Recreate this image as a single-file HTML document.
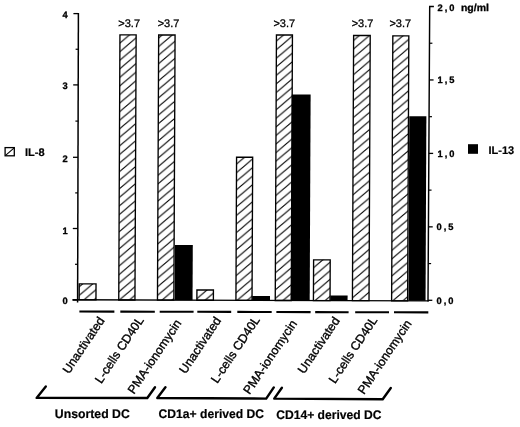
<!DOCTYPE html>
<html><head><meta charset="utf-8"><style>
html,body{margin:0;padding:0;background:#fff;}
svg{display:block;will-change:transform;}
text{font-family:"Liberation Sans",sans-serif;fill:#000;text-rendering:geometricPrecision;}
.t11{font-size:11px;stroke:#000;stroke-width:0.3px;}
.b10{font-size:10px;font-weight:bold;}
.b9{font-size:9.3px;font-weight:bold;stroke:#000;stroke-width:0.3px;}
.b11{font-size:11px;font-weight:bold;stroke:#000;stroke-width:0.2px;}
.b12{font-size:12.4px;font-weight:bold;stroke:#000;stroke-width:0.2px;}
.r12{font-size:12.3px;stroke:#000;stroke-width:0.35px;}
</style></head><body>
<svg width="520" height="427" viewBox="0 0 520 427">
<rect width="520" height="427" fill="#fff"/>
<defs>
<pattern id="h0" patternUnits="userSpaceOnUse" x="79.2" y="286.8" width="10.094" height="8.58"><path d="M-11.09,9.43 L1.00,-0.85 M-1.00,9.43 L11.09,-0.85 M9.09,9.43 L21.19,-0.85" stroke="#000" stroke-width="1.05" fill="none"/></pattern>
<pattern id="h1" patternUnits="userSpaceOnUse" x="119.9" y="34.5" width="10.094" height="8.58"><path d="M-11.09,9.43 L1.00,-0.85 M-1.00,9.43 L11.09,-0.85 M9.09,9.43 L21.19,-0.85" stroke="#000" stroke-width="1.05" fill="none"/></pattern>
<pattern id="h2" patternUnits="userSpaceOnUse" x="158.6" y="38" width="10.094" height="8.58"><path d="M-11.09,9.43 L1.00,-0.85 M-1.00,9.43 L11.09,-0.85 M9.09,9.43 L21.19,-0.85" stroke="#000" stroke-width="1.05" fill="none"/></pattern>
<pattern id="h3" patternUnits="userSpaceOnUse" x="196.9" y="290" width="10.094" height="8.58"><path d="M-11.09,9.43 L1.00,-0.85 M-1.00,9.43 L11.09,-0.85 M9.09,9.43 L21.19,-0.85" stroke="#000" stroke-width="1.05" fill="none"/></pattern>
<pattern id="h4" patternUnits="userSpaceOnUse" x="236" y="155.5" width="10.094" height="8.58"><path d="M-11.09,9.43 L1.00,-0.85 M-1.00,9.43 L11.09,-0.85 M9.09,9.43 L21.19,-0.85" stroke="#000" stroke-width="1.05" fill="none"/></pattern>
<pattern id="h5" patternUnits="userSpaceOnUse" x="275.3" y="32.5" width="10.094" height="8.58"><path d="M-11.09,9.43 L1.00,-0.85 M-1.00,9.43 L11.09,-0.85 M9.09,9.43 L21.19,-0.85" stroke="#000" stroke-width="1.05" fill="none"/></pattern>
<pattern id="h6" patternUnits="userSpaceOnUse" x="313.6" y="259.1" width="10.094" height="8.58"><path d="M-11.09,9.43 L1.00,-0.85 M-1.00,9.43 L11.09,-0.85 M9.09,9.43 L21.19,-0.85" stroke="#000" stroke-width="1.05" fill="none"/></pattern>
<pattern id="h7" patternUnits="userSpaceOnUse" x="353.6" y="40.4" width="10.094" height="8.58"><path d="M-11.09,9.43 L1.00,-0.85 M-1.00,9.43 L11.09,-0.85 M9.09,9.43 L21.19,-0.85" stroke="#000" stroke-width="1.05" fill="none"/></pattern>
<pattern id="h8" patternUnits="userSpaceOnUse" x="392.8" y="35.8" width="10.094" height="8.58"><path d="M-11.09,9.43 L1.00,-0.85 M-1.00,9.43 L11.09,-0.85 M9.09,9.43 L21.19,-0.85" stroke="#000" stroke-width="1.05" fill="none"/></pattern>
</defs>
<rect x="79.2" y="283.9" width="16.8" height="15.95" fill="url(#h0)" stroke="#000" stroke-width="1.35" transform="matrix(1,0,-0.0045,1,1.31,0)"/>
<rect x="119.9" y="34.9" width="16.2" height="265.07" fill="url(#h1)" stroke="#000" stroke-width="1.35" transform="matrix(1,0,-0.0045,1,0.2,0)"/>
<rect x="158.6" y="35" width="16.4" height="265.09" fill="url(#h2)" stroke="#000" stroke-width="1.35" transform="matrix(1,0,-0.0045,1,0.22,0)"/>
<rect x="175" y="244.9" width="17.8" height="55.24" fill="#000" transform="matrix(1,0,-0.0045,1,1.1,0)"/>
<rect x="196.9" y="290" width="16.5" height="10.21" fill="url(#h3)" stroke="#000" stroke-width="1.35" transform="matrix(1,0,-0.0045,1,1.33,0)"/>
<rect x="236" y="157.2" width="16.1" height="143.13" fill="url(#h4)" stroke="#000" stroke-width="1.35" transform="matrix(1,0,-0.0045,1,1.28,0)"/>
<rect x="252.2" y="296" width="17.8" height="4.38" fill="#000" transform="matrix(1,0,-0.0045,1,1.34,0)"/>
<rect x="275.3" y="35" width="16" height="265.45" fill="url(#h5)" stroke="#000" stroke-width="1.35" transform="matrix(1,0,-0.0045,1,1.3,0)"/>
<rect x="291.8" y="94.4" width="18.8" height="206.11" fill="#000" transform="matrix(1,0,-0.0045,1,0.45,0)"/>
<rect x="313.6" y="259.8" width="16.6" height="40.77" fill="url(#h6)" stroke="#000" stroke-width="1.35" transform="matrix(1,0,-0.0045,1,1.18,0)"/>
<rect x="330.3" y="295.6" width="17.3" height="5.02" fill="#000" transform="matrix(1,0,-0.0045,1,1.34,0)"/>
<rect x="353.6" y="35.5" width="16.6" height="265.19" fill="url(#h7)" stroke="#000" stroke-width="1.35" transform="matrix(1,0,-0.0045,1,0.18,0)"/>
<rect x="392.8" y="35.8" width="16" height="265.01" fill="url(#h8)" stroke="#000" stroke-width="1.35" transform="matrix(1,0,-0.0045,1,0.18,0)"/>
<rect x="408.9" y="116.2" width="17.1" height="184.66" fill="#000" transform="matrix(1,0,-0.0045,1,0.9,0)"/>
<text x="118.3" y="26.6" class="t11">&gt;3.7</text>
<text x="157.7" y="26.6" class="t11">&gt;3.7</text>
<text x="273.4" y="26.6" class="t11">&gt;3.7</text>
<text x="351.7" y="27" class="t11">&gt;3.7</text>
<text x="389.4" y="27" class="t11">&gt;3.7</text>
<line x1="78.4" y1="13" x2="77.6" y2="302.5" stroke="#000" stroke-width="1.5"/>
<line x1="72.61" y1="300.1" x2="77.61" y2="300.1" stroke="#000" stroke-width="1.3"/>
<line x1="75.01" y1="264.3" x2="77.71" y2="264.3" stroke="#000" stroke-width="1.2"/>
<line x1="72.8" y1="228.5" x2="77.8" y2="228.5" stroke="#000" stroke-width="1.3"/>
<line x1="75.2" y1="192.9" x2="77.9" y2="192.9" stroke="#000" stroke-width="1.2"/>
<line x1="73" y1="157.3" x2="78" y2="157.3" stroke="#000" stroke-width="1.3"/>
<line x1="75.4" y1="121.1" x2="78.1" y2="121.1" stroke="#000" stroke-width="1.2"/>
<line x1="73.2" y1="84.9" x2="78.2" y2="84.9" stroke="#000" stroke-width="1.3"/>
<line x1="75.6" y1="49.25" x2="78.3" y2="49.25" stroke="#000" stroke-width="1.2"/>
<line x1="73.4" y1="13.6" x2="78.4" y2="13.6" stroke="#000" stroke-width="1.3"/>
<text x="62.6" y="303.6" class="b9">0</text>
<text x="62.6" y="233.5" class="b9">1</text>
<text x="62.6" y="161.5" class="b9">2</text>
<text x="62.6" y="88.9" class="b9">3</text>
<text x="62.6" y="17.6" class="b9">4</text>
<line x1="72.5" y1="299.8" x2="428.8" y2="300.9" stroke="#000" stroke-width="1.4"/>
<path d="M433.9,6.5 H429.7 L428.0,301.5" stroke="#000" stroke-width="1.45" fill="none"/>
<line x1="428.01" y1="300.3" x2="432.31" y2="300.3" stroke="#000" stroke-width="1.3"/>
<text x="436.6" y="303.9" class="b9" letter-spacing="1.9">0,0</text>
<line x1="428.22" y1="263.57" x2="431.12" y2="263.57" stroke="#000" stroke-width="1.2"/>
<line x1="428.43" y1="226.85" x2="432.73" y2="226.85" stroke="#000" stroke-width="1.3"/>
<text x="436.6" y="230.3" class="b9" letter-spacing="1.9">0,5</text>
<line x1="428.64" y1="190.12" x2="431.54" y2="190.12" stroke="#000" stroke-width="1.2"/>
<line x1="428.85" y1="153.4" x2="433.15" y2="153.4" stroke="#000" stroke-width="1.3"/>
<text x="437.6" y="157.3" class="b9" letter-spacing="1.9">1,0</text>
<line x1="429.07" y1="116.68" x2="431.97" y2="116.68" stroke="#000" stroke-width="1.2"/>
<line x1="429.28" y1="79.95" x2="433.58" y2="79.95" stroke="#000" stroke-width="1.3"/>
<text x="437.6" y="83.2" class="b9" letter-spacing="1.9">1,5</text>
<line x1="429.49" y1="43.23" x2="432.39" y2="43.23" stroke="#000" stroke-width="1.2"/>
<text x="437.6" y="10.8" class="b9" letter-spacing="1.9">2,0</text>
<text x="460.9" y="11.4" class="b10" textLength="28.0" lengthAdjust="spacingAndGlyphs" stroke="#000" stroke-width="0.3">ng/ml</text>
<line x1="79.4" y1="311.5" x2="114.4" y2="311.59" stroke="#000" stroke-width="2.1"/>
<line x1="120.3" y1="311.6" x2="154.8" y2="311.69" stroke="#000" stroke-width="2.1"/>
<line x1="159.7" y1="311.71" x2="193.6" y2="311.79" stroke="#000" stroke-width="2.1"/>
<line x1="197.3" y1="311.8" x2="231.2" y2="311.89" stroke="#000" stroke-width="2.1"/>
<line x1="237.3" y1="311.91" x2="271.7" y2="311.99" stroke="#000" stroke-width="2.1"/>
<line x1="276.4" y1="312.01" x2="310.6" y2="312.09" stroke="#000" stroke-width="2.1"/>
<line x1="315.2" y1="312.11" x2="348.6" y2="312.19" stroke="#000" stroke-width="2.1"/>
<line x1="355.2" y1="312.21" x2="389" y2="312.3" stroke="#000" stroke-width="2.1"/>
<line x1="394" y1="312.31" x2="428.3" y2="312.4" stroke="#000" stroke-width="2.1"/>
<text x="105" y="320.5" text-anchor="end" class="r12" transform="rotate(-56.2 105 320.5)">Unactivated</text>
<text x="144.2" y="320" text-anchor="end" class="r12" transform="rotate(-56.2 144.2 320)">L-cells CD40L</text>
<text x="181.9" y="323.1" text-anchor="end" class="r12" transform="rotate(-56.2 181.9 323.1)">PMA-ionomycin</text>
<text x="221.6" y="320.5" text-anchor="end" class="r12" transform="rotate(-56.2 221.6 320.5)">Unactivated</text>
<text x="260.3" y="319.7" text-anchor="end" class="r12" transform="rotate(-56.2 260.3 319.7)">L-cells CD40L</text>
<text x="297.5" y="323.5" text-anchor="end" class="r12" transform="rotate(-56.2 297.5 323.5)">PMA-ionomycin</text>
<text x="340.2" y="320.5" text-anchor="end" class="r12" transform="rotate(-56.2 340.2 320.5)">Unactivated</text>
<text x="377.9" y="320" text-anchor="end" class="r12" transform="rotate(-56.2 377.9 320)">L-cells CD40L</text>
<text x="412" y="323.5" text-anchor="end" class="r12" transform="rotate(-56.2 412 323.5)">PMA-ionomycin</text>
<path d="M45.8,386.5 L36.6,397.9 L147.3,398 L155,387.2" stroke="#000" stroke-width="2.4" fill="none" stroke-linejoin="round" stroke-linecap="round"/>
<path d="M165.4,387.2 L157.3,398 L266.2,398.6 L273.8,387.4" stroke="#000" stroke-width="2.4" fill="none" stroke-linejoin="round" stroke-linecap="round"/>
<path d="M281.9,387.8 L274.2,398.6 L382.7,399.3 L390.8,388" stroke="#000" stroke-width="2.4" fill="none" stroke-linejoin="round" stroke-linecap="round"/>
<text x="54.8" y="418.0" class="b12" textLength="75" lengthAdjust="spacingAndGlyphs">Unsorted DC</text>
<text x="158.6" y="418.1" class="b12" textLength="105.5" lengthAdjust="spacingAndGlyphs">CD1a+ derived DC</text>
<text x="276.2" y="418.8" class="b12" textLength="105.3" lengthAdjust="spacingAndGlyphs">CD14+ derived DC</text>
<rect x="5.1" y="147.6" width="9.2" height="8.2" fill="none" stroke="#000" stroke-width="1.3"/>
<line x1="5.6" y1="155.4" x2="13.9" y2="148.1" stroke="#000" stroke-width="1.1"/>
<text x="25" y="155.9" class="b11">IL-8</text>
<rect x="468" y="144.2" width="10" height="9.6" fill="#000"/>
<text x="488.5" y="153.7" class="b11">IL-13</text>
</svg>
</body></html>
